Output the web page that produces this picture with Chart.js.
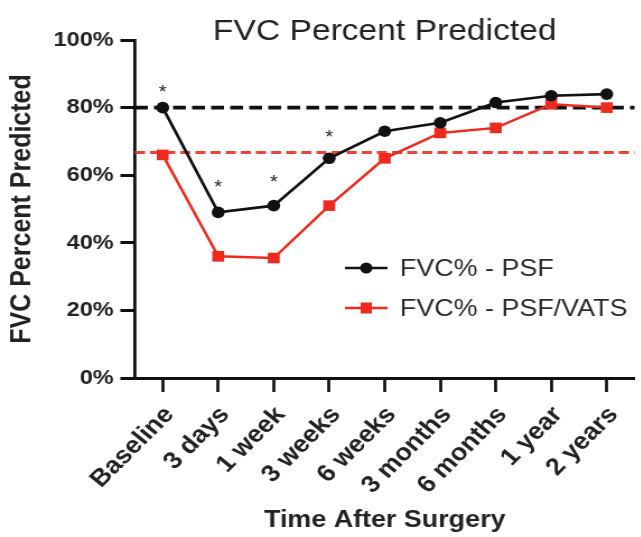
<!DOCTYPE html>
<html>
<head>
<meta charset="utf-8">
<script src="https://cdn.jsdelivr.net/npm/chart.js@4.4.1/dist/chart.umd.min.js"></script>
<style>
  html, body { margin: 0; padding: 0; background: #fff; overflow: hidden; }
  /* the source figure is a little wider than tall in its lettering, so stretch a bit */
  #chart { display: block; transform: scaleX(1.12); transform-origin: 0 0; }
</style>
</head>
<body>
<canvas id="chart" width="574" height="537"></canvas>
<script>
var timepoints = ['Baseline', '3 days', '1 week', '3 weeks', '6 weeks', '3 months', '6 months', '1 year', '2 years'];
var fvcPsf = [80, 49, 51, 65, 73, 75.5, 81.5, 83.5, 84];
var fvcPsfVats = [66, 36, 35.5, 51, 65, 72.5, 74, 81, 80];
// where the significance stars sit (percent), null = no star
var starLevels = [85.8, 57.7, 59.2, 72.5, null, null, null, null, null];
var normalLine = 80;        // black dashed reference
var vatsBaselineLine = 66.7; // red dashed reference

var FONT = "'Liberation Sans', Arial, Helvetica, sans-serif";
var BLACK = '#111111';
var RED = '#ec2a1e';

var refLines = {
    id: 'refLines',
    beforeDatasetsDraw: function (chart) {
        var ctx = chart.ctx, a = chart.chartArea, y = chart.scales.y;
        ctx.save();
        ctx.lineWidth = 3;
        ctx.strokeStyle = '#e8463c';
        ctx.setLineDash([9, 4.5]);
        var yr = y.getPixelForValue(vatsBaselineLine);
        ctx.beginPath(); ctx.moveTo(a.left, yr); ctx.lineTo(a.right, yr); ctx.stroke();
        ctx.lineWidth = 3.6;
        ctx.strokeStyle = BLACK;
        ctx.setLineDash([11.5, 5.5]);
        var yb = y.getPixelForValue(normalLine);
        ctx.beginPath(); ctx.moveTo(a.left, yb); ctx.lineTo(a.right, yb); ctx.stroke();
        ctx.restore();
    }
};

var extras = {
    id: 'extras',
    afterDraw: function (chart) {
        var ctx = chart.ctx, a = chart.chartArea;
        var xs = chart.scales.x, ys = chart.scales.y;
        ctx.save();
        // title
        ctx.fillStyle = '#222';
        ctx.font = '30px ' + FONT;
        ctx.textAlign = 'center';
        ctx.textBaseline = 'alphabetic';
        ctx.fillText('FVC Percent Predicted', (a.left + a.right) / 2, 40);

        // stars
        ctx.font = '18px ' + FONT;
        for (var i = 0; i < starLevels.length; i++) {
            if (starLevels[i] == null) continue;
            ctx.fillText('*', xs.getPixelForValue(i), ys.getPixelForValue(starLevels[i]) + 10);
        }

        // legend
        var lx = 308, lw = 38, tx = 357;
        var rows = [
            { y: 268, color: BLACK, shape: 'circle', text: 'FVC% - PSF' },
            { y: 308, color: RED, shape: 'rect', text: 'FVC% - PSF/VATS' }
        ];
        rows.forEach(function (r) {
            ctx.strokeStyle = r.color;
            ctx.fillStyle = r.color;
            ctx.lineWidth = 2.7;
            ctx.beginPath(); ctx.moveTo(lx, r.y); ctx.lineTo(lx + lw, r.y); ctx.stroke();
            var cx = lx + lw / 2;
            if (r.shape === 'circle') {
                ctx.beginPath(); ctx.arc(cx, r.y, 5.5, 0, Math.PI * 2); ctx.fill();
            } else {
                ctx.fillRect(cx - 5, r.y - 5.5, 10, 11);
            }
            ctx.fillStyle = '#2a2a2a';
            ctx.font = '24px ' + FONT;
            ctx.textAlign = 'left';
            ctx.textBaseline = 'middle';
            ctx.fillText(r.text, tx, r.y + 1);
        });
        ctx.restore();
    }
};

var ctx = document.getElementById('chart').getContext('2d');
var chart = new Chart(ctx, {
    type: 'line',
    data: {
        labels: timepoints,
        datasets: [{
            label: 'FVC% - PSF',
            data: fvcPsf,
            borderColor: BLACK,
            backgroundColor: BLACK,
            borderWidth: 2.7,
            pointStyle: 'circle',
            pointRadius: 5.8,
            pointBorderWidth: 0,
            tension: 0
        }, {
            label: 'FVC% - PSF/VATS',
            data: fvcPsfVats,
            borderColor: RED,
            backgroundColor: RED,
            borderWidth: 2.5,
            pointStyle: 'rect',
            pointRadius: 7.5,
            pointBorderWidth: 0,
            tension: 0
        }]
    },
    options: {
        responsive: false,
        animation: false,
        devicePixelRatio: 1,
        layout: { padding: { top: 40, left: 0, right: 0, bottom: 0 } },
        plugins: {
            legend: { display: false },
            tooltip: { enabled: false },
            title: { display: false }
        },
        scales: {
            x: {
                type: 'category',
                offset: true,
                afterFit: function (s) { s.height = 159; },
                border: { display: true, color: BLACK, width: 3 },
                grid: { display: true, drawOnChartArea: false, drawTicks: true, tickLength: 14, tickWidth: 2.7, tickColor: BLACK },
                ticks: {
                    autoSkip: false,
                    maxRotation: 48,
                    minRotation: 48,
                    padding: 9,
                    labelOffset: 6,
                    color: '#222',
                    font: { family: FONT, size: 24, weight: 'bold' }
                },
                title: {
                    display: true,
                    text: 'Time After Surgery',
                    color: '#222',
                    padding: { top: 0, bottom: 2 },
                    font: { family: FONT, size: 24, weight: 'bold' }
                }
            },
            y: {
                min: 0,
                max: 100,
                afterFit: function (s) { s.width = 120.5; },
                border: { display: true, color: BLACK, width: 2.8 },
                grid: { display: true, drawOnChartArea: false, drawTicks: true, tickLength: 13, tickWidth: 3, tickColor: BLACK },
                ticks: {
                    stepSize: 20,
                    padding: 6,
                    color: '#222',
                    font: { family: FONT, size: 21, weight: 'bold' },
                    callback: function (v) { return v + '%'; }
                },
                title: {
                    display: true,
                    text: 'FVC Percent Predicted',
                    color: '#222',
                    padding: { top: 5, bottom: 0 },
                    font: { family: FONT, size: 25, weight: 'bold' }
                }
            }
        }
    },
    plugins: [refLines, extras]
});
</script>
</body>
</html>
